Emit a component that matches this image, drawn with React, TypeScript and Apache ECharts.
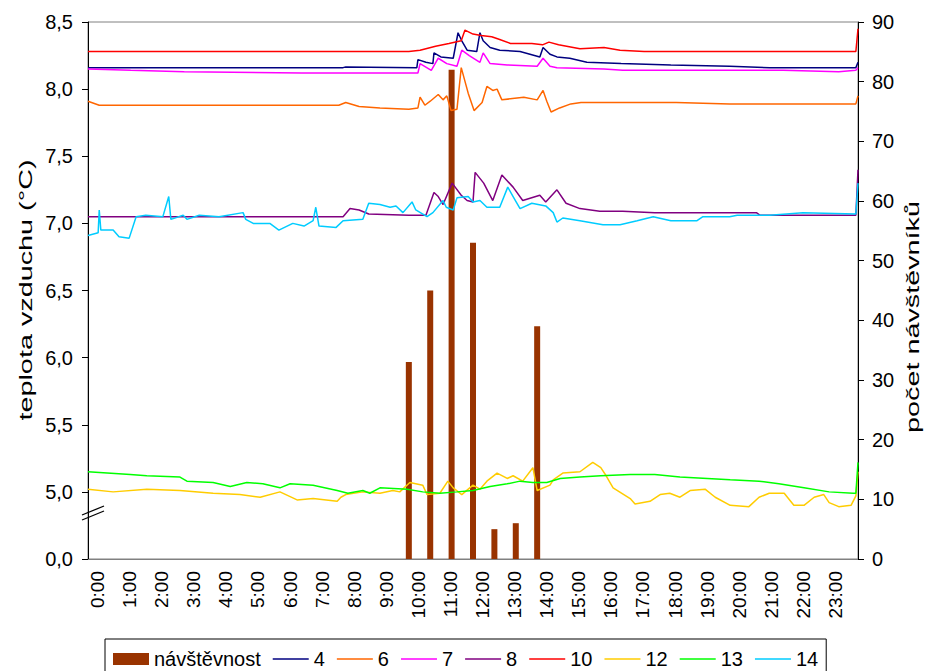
import React, { useEffect, useRef } from 'react';
import * as echarts from 'echarts';

const hourLabels = ['0:00','1:00','2:00','3:00','4:00','5:00','6:00','7:00','8:00','9:00','10:00','11:00','12:00','13:00','14:00','15:00','16:00','17:00','18:00','19:00','20:00','21:00','22:00','23:00'];
const leftTickLabels = ['0,0','5,0','5,5','6,0','6,5','7,0','7,5','8,0','8,5'];
const rightTickLabels = ['0','10','20','30','40','50','60','70','80','90'];
const legendNames = ['návštěvnost','4','6','7','8','10','12','13','14'];

// visitors (right axis), time in minutes from midnight
const visitTimes = [600, 640, 680, 720, 760, 800, 840];
const visitors = [33, 45, 82, 53, 5, 6, 39];

// temperatures [minute, °C]
const s10 = [[0,8.28],[600,8.28],[621,8.29],[650,8.32],[675,8.34],[698,8.36],[705,8.44],[720,8.41],[735,8.40],[755,8.39],[770,8.37],[790,8.34],[830,8.34],[850,8.33],[862,8.35],[880,8.33],[920,8.30],[965,8.31],[995,8.29],[1040,8.28],[1436,8.28],[1440,8.45]];
const s4 = [[0,8.16],[200,8.16],[477,8.16],[482,8.165],[615,8.16],[617,8.22],[632,8.20],[645,8.19],[647,8.27],[660,8.24],[683,8.23],[692,8.42],[699,8.36],[709,8.29],[727,8.28],[733,8.42],[739,8.36],[752,8.31],[770,8.29],[808,8.28],[845,8.24],[851,8.31],[864,8.26],[877,8.24],[901,8.23],[933,8.20],[997,8.19],[1090,8.18],[1200,8.17],[1275,8.16],[1436,8.16],[1440,8.20]];
const s7 = [[0,8.15],[80,8.14],[180,8.13],[400,8.12],[617,8.12],[621,8.19],[642,8.14],[655,8.23],[671,8.19],[690,8.17],[699,8.29],[713,8.25],[733,8.20],[739,8.27],[752,8.19],[784,8.18],[840,8.17],[851,8.23],[864,8.17],[877,8.16],[965,8.15],[1000,8.14],[1300,8.14],[1404,8.13],[1436,8.14],[1440,8.16]];
const s6 = [[0,7.91],[21,7.88],[100,7.88],[200,7.88],[469,7.88],[482,7.90],[507,7.87],[546,7.86],[600,7.85],[617,7.86],[621,7.94],[630,7.88],[640,7.91],[655,7.96],[664,7.92],[671,7.95],[679,7.84],[690,7.85],[698,8.16],[711,7.97],[722,7.84],[737,7.90],[746,8.02],[757,7.99],[765,8.00],[774,7.92],[815,7.94],[840,7.92],[851,7.99],[858,7.91],[866,7.83],[882,7.86],[903,7.89],[922,7.90],[1100,7.90],[1200,7.89],[1436,7.89],[1440,7.95]];
const s8 = [[0,7.05],[200,7.05],[477,7.05],[490,7.11],[507,7.10],[525,7.07],[600,7.06],[632,7.06],[647,7.23],[655,7.20],[664,7.14],[681,7.30],[698,7.21],[709,7.17],[720,7.16],[724,7.38],[740,7.30],[757,7.17],[774,7.36],[795,7.27],[813,7.17],[845,7.21],[856,7.16],[877,7.25],[894,7.15],[920,7.11],[957,7.09],[1000,7.09],[1060,7.08],[1250,7.08],[1257,7.06],[1436,7.06],[1440,7.40]];
const s14 = [[0,6.91],[19,6.93],[21,7.10],[24,6.95],[47,6.95],[58,6.90],[77,6.89],[90,7.05],[108,7.06],[140,7.05],[151,7.20],[155,7.03],[178,7.06],[185,7.03],[208,7.06],[245,7.05],[290,7.08],[295,7.03],[309,7.00],[340,7.00],[357,6.95],[383,7.00],[404,6.98],[421,7.02],[426,7.12],[432,6.98],[464,6.97],[477,7.02],[514,7.03],[525,7.15],[546,7.14],[565,7.12],[576,7.13],[589,7.08],[606,7.16],[613,7.10],[634,7.05],[645,7.08],[664,7.17],[670,7.12],[683,7.10],[690,7.19],[711,7.20],[720,7.16],[733,7.17],[746,7.12],[770,7.12],[785,7.27],[795,7.20],[808,7.11],[830,7.15],[856,7.13],[870,7.08],[877,7.01],[888,7.04],[920,7.02],[963,6.99],[995,6.99],[1027,7.02],[1057,7.05],[1090,7.02],[1139,7.02],[1150,7.05],[1200,7.05],[1214,7.06],[1275,7.06],[1337,7.08],[1436,7.07],[1440,7.30]];
const s13 = [[0,5.15],[79,5.13],[110,5.12],[172,5.11],[185,5.08],[234,5.07],[266,5.04],[297,5.07],[327,5.06],[359,5.03],[378,5.06],[421,5.05],[466,5.01],[486,4.99],[514,5.01],[527,4.99],[546,5.03],[597,5.02],[626,5.00],[658,4.99],[690,5.00],[720,5.01],[752,5.04],[784,5.06],[808,5.08],[832,5.07],[858,5.07],[883,5.10],[920,5.11],[959,5.12],[1014,5.13],[1060,5.13],[1107,5.11],[1201,5.09],[1255,5.08],[1292,5.06],[1339,5.03],[1386,5.00],[1431,4.99],[1436,4.99],[1440,5.22]];
const s12 = [[0,5.02],[47,5.00],[110,5.02],[172,5.01],[234,4.99],[284,4.98],[322,4.96],[359,5.00],[391,4.94],[421,4.95],[466,4.93],[473,4.96],[482,4.98],[514,5.00],[546,4.99],[570,5.01],[583,5.00],[602,5.07],[626,5.05],[634,4.98],[658,4.99],[673,5.08],[683,5.03],[699,4.98],[720,5.05],[733,5.02],[746,5.08],[765,5.14],[784,5.10],[795,5.12],[813,5.08],[832,5.18],[840,5.01],[864,5.05],[870,5.09],[888,5.14],[920,5.15],[944,5.22],[959,5.18],[969,5.12],[982,5.03],[1014,4.95],[1023,4.91],[1051,4.93],[1070,4.98],[1088,4.99],[1107,4.96],[1126,5.01],[1154,5.02],[1173,4.96],[1201,4.90],[1236,4.89],[1255,4.96],[1274,4.99],[1302,4.99],[1320,4.90],[1339,4.90],[1358,4.96],[1376,4.98],[1386,4.92],[1404,4.89],[1427,4.90],[1436,4.97],[1440,5.15]];

const FONT = "'Liberation Sans', Arial, sans-serif";
const LINE_ICON = 'path://M0,0H36V1.6H0Z';

export default function App() {
  const ref = useRef<HTMLDivElement>(null);
  useEffect(() => {
    const chart = echarts.init(ref.current as HTMLDivElement, null, { renderer: 'svg' });
    const lines = [
      { name: '4', data: s4, color: '#000080' },
      { name: '6', data: s6, color: '#FF6600' },
      { name: '7', data: s7, color: '#FF00FF' },
      { name: '8', data: s8, color: '#800080' },
      { name: '10', data: s10, color: '#FF0000' },
      { name: '12', data: s12, color: '#FFCC00' },
      { name: '13', data: s13, color: '#00FF00' },
      { name: '14', data: s14, color: '#00CCFF' },
    ];
    chart.setOption({
      animation: false,
      textStyle: { fontFamily: FONT },
      grid: { left: 88, right: 74, top: 22, bottom: 112, show: true, borderColor: '#808080', borderWidth: 1 },
      xAxis: {
        type: 'value', min: 0, max: 1440, interval: 60,
        axisLine: { show: true, lineStyle: { color: '#808080', width: 1 } },
        axisTick: { show: false },
        splitLine: { show: false },
        axisLabel: {
          rotate: 90, fontSize: 19, color: '#000', margin: 12, fontFamily: FONT,
          verticalAlign: 'top',
          formatter: (v: number) => hourLabels[Math.round(v / 60)] ?? '',
        },
      },
      yAxis: [
        {
          type: 'value', min: 4.5, max: 8.5, interval: 0.5, position: 'left',
          axisLine: { show: true, lineStyle: { color: '#000', width: 1 } },
          axisTick: { show: true, length: 6, lineStyle: { color: '#000' } },
          splitLine: { show: false },
          axisLabel: {
            fontSize: 20, color: '#000', margin: 15, fontFamily: FONT,
            formatter: (v: number) => leftTickLabels[Math.round((v - 4.5) / 0.5)] ?? '',
          },
        },
        {
          type: 'value', min: 0, max: 90, interval: 10, position: 'right',
          axisLine: { show: true, lineStyle: { color: '#000', width: 1 } },
          axisTick: { show: true, length: 6, lineStyle: { color: '#000' } },
          splitLine: { show: false },
          axisLabel: {
            fontSize: 20, color: '#000', margin: 14, fontFamily: FONT,
            formatter: (v: number) => rightTickLabels[Math.round(v / 10)] ?? '',
          },
        },
      ],
      legend: {
        data: legendNames.map((n, i) => ({ name: n, icon: i === 0 ? 'rect' : LINE_ICON })),
        left: 105, top: 639, orient: 'horizontal',
        itemWidth: 36, itemHeight: 12, itemGap: 12, symbolKeepAspect: true,
        padding: [10, 8, 10, 8],
        borderColor: '#000', borderWidth: 1, backgroundColor: '#fff',
        textStyle: { fontSize: 20, color: '#000', fontFamily: FONT },
      },
      graphic: [
        { type: 'line', shape: { x1: 82, y1: 520, x2: 104, y2: 511 }, style: { stroke: '#000', lineWidth: 1.3 }, z: 100 },
        { type: 'line', shape: { x1: 82, y1: 515, x2: 104, y2: 506 }, style: { stroke: '#000', lineWidth: 1.3 }, z: 100 },
        {
          type: 'text', x: 26, y: 290, rotation: Math.PI / 2, scaleX: 1.6,
          style: { text: 'teplota vzduchu (°C)', fontSize: 18, fill: '#000', align: 'center', verticalAlign: 'middle', fontFamily: FONT },
        },
        {
          type: 'text', x: 913, y: 317, rotation: Math.PI / 2, scaleX: 1.6,
          style: { text: 'počet návštěvníků', fontSize: 18, fill: '#000', align: 'center', verticalAlign: 'middle', fontFamily: FONT },
        },
      ],
      series: [
        {
          name: 'návštěvnost', type: 'bar', yAxisIndex: 1, barWidth: 6,
          itemStyle: { color: '#993300' },
          data: visitTimes.map((t, i) => [t, visitors[i]]),
          z: 1,
        },
        ...lines.map((l) => ({
          name: l.name, type: 'line', yAxisIndex: 0, symbol: 'none', showSymbol: false,
          data: l.data, color: l.color,
          lineStyle: { color: l.color, width: 1.5 },
          z: 2,
        })),
      ],
    });
    return () => chart.dispose();
  }, []);
  return <div ref={ref} style={{ position: 'absolute', left: 0, top: 0, width: 932, height: 671 }} />;
}
